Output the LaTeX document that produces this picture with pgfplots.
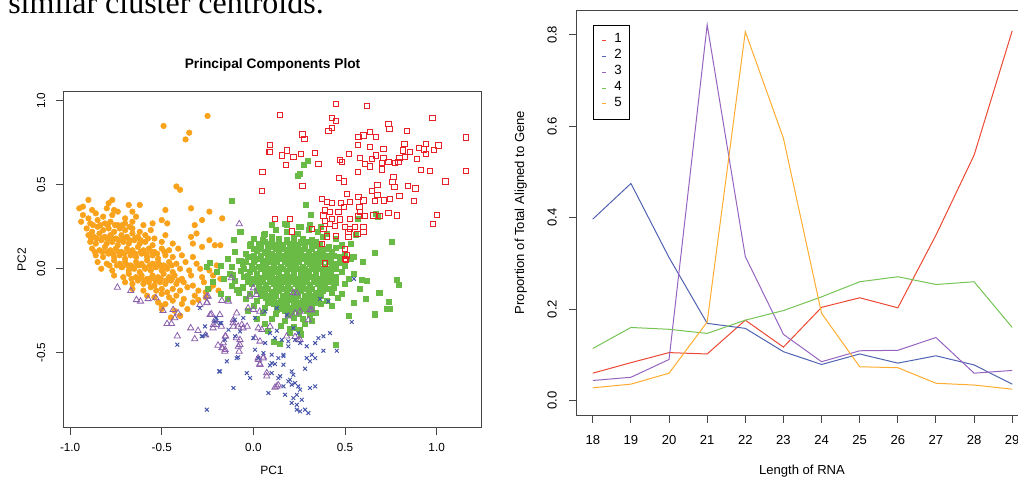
\documentclass[border=0pt]{standalone}
\usepackage{fontspec}
\setmainfont{Liberation Sans}
\newfontfamily\bodyserif{Liberation Serif}
\usepackage{pgfplots}
\usepackage{pgfplotstable}
\pgfplotsset{compat=1.18}

\definecolor{ptorange}{RGB}{249,162,28}
\definecolor{ptgreen}{RGB}{106,187,69}
\definecolor{ptred}{RGB}{232,32,40}
\definecolor{ptpurple}{RGB}{140,96,172}
\definecolor{ptblue}{RGB}{68,84,170}
\definecolor{lnred}{RGB}{236,72,52}
\definecolor{lnblue}{RGB}{80,98,178}
\definecolor{lnpurple}{RGB}{150,100,192}
\definecolor{lngreen}{RGB}{118,196,84}
\definecolor{lnorange}{RGB}{255,172,48}
\definecolor{framegray}{RGB}{70,70,70}

% proportions of reads by RNA length, one column per cluster
\pgfplotstableread{
len s1 s2 s3 s4 s5
18 0.060 0.397 0.044 0.114 0.028
19 0.083 0.475 0.051 0.160 0.036
20 0.105 0.313 0.090 0.156 0.060
21 0.102 0.169 0.822 0.147 0.172
22 0.176 0.158 0.315 0.176 0.807
23 0.117 0.107 0.145 0.197 0.574
24 0.204 0.079 0.085 0.227 0.191
25 0.225 0.102 0.109 0.260 0.074
26 0.203 0.082 0.110 0.271 0.072
27 0.362 0.098 0.138 0.254 0.038
28 0.537 0.078 0.060 0.260 0.034
29 0.809 0.036 0.066 0.160 0.025
}\rnatable

\pgfplotsset{
  rstyle/.style={
    scale only axis,
    axis line style={framegray, line width=0.75pt},
    tick style={framegray, line width=0.75pt},
    tick align=outside, xtick pos=bottom, ytick pos=left,
    major tick length=5.3pt,
    /pgf/number format/assume math mode=true,
  },
}

\begin{document}
\begin{tikzpicture}
\useasboundingbox (0,0) rectangle (763.5pt,357.75pt);
\clip (0,0) rectangle (763.5pt,357.75pt);

\node[anchor=base west, inner sep=0pt, font=\bodyserif\fontsize{24}{28}\selectfont]
  at (6pt,347.8pt) {similar cluster centroids.};

%% ---------------- PCA scatter ----------------
\begin{axis}[rstyle,
  at={(47.5pt,36.75pt)}, anchor=south west,
  width=313.8pt, height=252.2pt,
  xmin=-1.037, xmax=1.246, ymin=-0.948, ymax=1.054,
  xtick={-1,-0.5,0,0.5,1}, ytick={-0.5,0,0.5,1},
  xticklabel style={font=\fontsize{8.8}{10}\selectfont, anchor=base, yshift=-12.4pt,
    /pgf/number format/fixed, /pgf/number format/fixed zerofill, /pgf/number format/precision=1},
  yticklabel style={font=\fontsize{8.8}{10}\selectfont, xshift=-8.3pt, rotate=90, anchor=base,
    /pgf/number format/fixed, /pgf/number format/fixed zerofill, /pgf/number format/precision=1},
]
% cluster: orange dots
\addplot[only marks, mark=*, mark size=2.1pt, color=ptorange] coordinates {
(-0.25,0.91) (-0.49,0.85) (-0.35,0.81) (-0.37,0.77) (-0.42,0.49) (-0.40,0.47)
(-0.48,0.35) (-0.34,0.36) (-0.24,0.34) (-0.17,0.30) (-0.62,0.38) (-0.66,0.34)
(-0.95,0.36) (-0.90,0.41) (-0.77,0.41) (-0.79,0.39) (-0.68,0.38) (-0.76,0.35)
(-0.50,0.29) (-0.47,0.27) (-0.55,0.27) (-0.28,0.29) (-0.32,0.26) (-0.21,0.14)
(-0.18,0.14) (-0.28,0.13) (-0.24,0.17) (-0.34,0.19) (-0.31,0.21) (-0.33,0.15)
(-0.30,-0.185) (-0.40,-0.28) (-0.50,-0.22) (-0.20,0.02) (-0.18,-0.06) (-0.22,-0.10)
(-0.26,-0.14) (-0.19,-0.13)
(-0.93,0.37) (-0.88,0.35) (-0.80,0.36) (-0.74,0.34)
(-0.93,0.32) (-0.90,0.30) (-0.86,0.33) (-0.82,0.31) (-0.77,0.32) (-0.70,0.30) (-0.64,0.31)
(-0.94,0.28) (-0.89,0.27) (-0.85,0.29) (-0.81,0.27) (-0.78,0.28) (-0.74,0.26) (-0.70,0.27)
(-0.66,0.28) (-0.60,0.26)
(-0.91,0.24) (-0.88,0.22) (-0.85,0.25) (-0.82,0.23) (-0.79,0.24) (-0.76,0.22) (-0.73,0.24)
(-0.70,0.23) (-0.66,0.24) (-0.62,0.22) (-0.56,0.23)
(-0.90,0.20) (-0.87,0.19) (-0.84,0.21) (-0.81,0.19) (-0.78,0.20) (-0.75,0.18) (-0.72,0.20)
(-0.69,0.19) (-0.66,0.21) (-0.63,0.19) (-0.59,0.20) (-0.54,0.18) (-0.48,0.20)
(-0.89,0.16) (-0.86,0.15) (-0.83,0.17) (-0.80,0.15) (-0.77,0.16) (-0.74,0.14) (-0.71,0.16)
(-0.68,0.15) (-0.65,0.17) (-0.62,0.15) (-0.59,0.16) (-0.55,0.14) (-0.50,0.16) (-0.44,0.15)
(-0.88,0.12) (-0.84,0.11) (-0.81,0.13) (-0.78,0.11) (-0.75,0.12) (-0.72,0.10) (-0.69,0.12)
(-0.66,0.11) (-0.63,0.13) (-0.60,0.11) (-0.57,0.12) (-0.54,0.10) (-0.50,0.12) (-0.46,0.11)
(-0.41,0.12)
(-0.86,0.08) (-0.82,0.07) (-0.79,0.09) (-0.76,0.07) (-0.73,0.08) (-0.70,0.06) (-0.67,0.08)
(-0.64,0.07) (-0.61,0.09) (-0.58,0.07) (-0.55,0.08) (-0.52,0.06) (-0.48,0.08) (-0.44,0.07)
(-0.39,0.08) (-0.33,0.07)
(-0.85,0.04) (-0.80,0.03) (-0.76,0.05) (-0.73,0.03) (-0.70,0.04) (-0.67,0.02) (-0.64,0.04)
(-0.61,0.03) (-0.58,0.05) (-0.55,0.03) (-0.52,0.04) (-0.49,0.02) (-0.46,0.04) (-0.42,0.03)
(-0.37,0.04) (-0.31,0.03)
(-0.83,0.00) (-0.77,-0.01) (-0.72,0.01) (-0.68,-0.01) (-0.65,0.00) (-0.62,-0.02) (-0.59,0.00)
(-0.56,-0.01) (-0.53,0.01) (-0.50,-0.01) (-0.47,0.00) (-0.44,-0.02) (-0.40,0.00) (-0.35,-0.01)
(-0.29,0.00) (-0.24,-0.01)
(-0.76,-0.04) (-0.71,-0.05) (-0.68,-0.03) (-0.64,-0.05) (-0.61,-0.04) (-0.58,-0.06) (-0.55,-0.04)
(-0.52,-0.05) (-0.49,-0.03) (-0.46,-0.05) (-0.43,-0.04) (-0.39,-0.06) (-0.34,-0.04) (-0.28,-0.05)
(-0.22,-0.04)
(-0.70,-0.08) (-0.66,-0.09) (-0.63,-0.07) (-0.60,-0.09) (-0.57,-0.08) (-0.54,-0.10) (-0.51,-0.08)
(-0.48,-0.09) (-0.45,-0.07) (-0.42,-0.09) (-0.38,-0.08) (-0.33,-0.10) (-0.27,-0.08)
(-0.66,-0.12) (-0.60,-0.13) (-0.56,-0.11) (-0.53,-0.13) (-0.50,-0.12) (-0.47,-0.14) (-0.44,-0.12)
(-0.40,-0.13) (-0.36,-0.11) (-0.30,-0.13) (-0.24,-0.12)
(-0.58,-0.16) (-0.54,-0.17) (-0.50,-0.15) (-0.46,-0.17) (-0.42,-0.16) (-0.38,-0.18) (-0.32,-0.16)
(-0.26,-0.17)
(-0.52,-0.20) (-0.48,-0.21) (-0.44,-0.19) (-0.39,-0.21) (-0.33,-0.20)
(-0.50,-0.24) (-0.43,-0.25) (-0.36,-0.24) (-0.45,-0.29) (-0.40,-0.28)
(-0.875,0.26) (-0.835,0.26) (-0.795,0.26) (-0.755,0.26) (-0.715,0.26) (-0.675,0.25)
(-0.885,0.18) (-0.855,0.18) (-0.825,0.18) (-0.795,0.18) (-0.765,0.18) (-0.735,0.17)
(-0.705,0.18) (-0.675,0.17) (-0.645,0.18) (-0.615,0.17) (-0.575,0.18)
(-0.865,0.10) (-0.825,0.10) (-0.795,0.10) (-0.765,0.09) (-0.735,0.10) (-0.705,0.09)
(-0.675,0.10) (-0.645,0.09) (-0.615,0.10) (-0.585,0.09) (-0.555,0.10) (-0.525,0.09) (-0.485,0.10)
(-0.785,0.02) (-0.745,0.02) (-0.715,0.01) (-0.685,0.02) (-0.655,0.01) (-0.625,0.02)
(-0.595,0.01) (-0.565,0.02) (-0.535,0.01) (-0.505,0.02) (-0.475,0.01) (-0.445,0.02)
(-0.665,-0.06) (-0.625,-0.06) (-0.595,-0.07) (-0.565,-0.06) (-0.535,-0.07) (-0.505,-0.06)
(-0.475,-0.07) (-0.445,-0.06) (-0.41,-0.07)
};
% cluster: green squares
\addplot[only marks, mark=square*, mark size=1.9pt, color=ptgreen] coordinates {
(0.10,0.26) (0.17,0.27) (0.26,0.25) (0.31,0.26) (0.37,0.25)
(-0.07,0.22) (0.06,0.21) (0.12,0.23) (0.18,0.22) (0.24,0.21) (0.30,0.23) (0.35,0.22) (0.40,0.21)
(0.00,0.18) (0.05,0.17) (0.10,0.19) (0.14,0.18) (0.18,0.17) (0.22,0.19) (0.27,0.18) (0.32,0.17)
(0.38,0.19) (0.45,0.18)
(-0.02,0.14) (0.04,0.13) (0.08,0.15) (0.12,0.14) (0.16,0.13) (0.20,0.15) (0.24,0.14) (0.28,0.13)
(0.32,0.15) (0.36,0.14) (0.41,0.13) (0.48,0.14)
(-0.10,0.10) (-0.04,0.09) (0.02,0.11) (0.06,0.10) (0.10,0.09) (0.14,0.11) (0.18,0.10) (0.22,0.09)
(0.26,0.11) (0.30,0.10) (0.34,0.09) (0.38,0.11) (0.43,0.10) (0.50,0.09)
(-0.14,0.06) (-0.08,0.05) (-0.03,0.07) (0.02,0.06) (0.06,0.05) (0.10,0.07) (0.14,0.06) (0.18,0.05)
(0.22,0.07) (0.26,0.06) (0.30,0.05) (0.34,0.07) (0.38,0.06) (0.42,0.05) (0.47,0.07) (0.53,0.06)
(-0.18,0.02) (-0.12,0.01) (-0.06,0.03) (-0.01,0.02) (0.03,0.01) (0.07,0.03) (0.11,0.02) (0.15,0.01)
(0.19,0.03) (0.23,0.02) (0.27,0.01) (0.31,0.03) (0.35,0.02) (0.39,0.01) (0.44,0.03) (0.50,0.02)
(-0.20,-0.02) (-0.13,-0.03) (-0.07,-0.01) (-0.02,-0.02) (0.02,-0.03) (0.06,-0.01) (0.10,-0.02)
(0.14,-0.03) (0.18,-0.01) (0.22,-0.02) (0.26,-0.03) (0.30,-0.01) (0.34,-0.02) (0.38,-0.03)
(0.42,-0.01) (0.48,-0.02) (0.55,-0.03)
(-0.16,-0.06) (-0.10,-0.07) (-0.05,-0.05) (0.00,-0.06) (0.04,-0.07) (0.08,-0.05) (0.12,-0.06)
(0.16,-0.07) (0.20,-0.05) (0.24,-0.06) (0.28,-0.07) (0.32,-0.05) (0.36,-0.06) (0.40,-0.07)
(0.45,-0.05) (0.52,-0.06)
(-0.12,-0.10) (-0.06,-0.11) (-0.01,-0.09) (0.03,-0.10) (0.07,-0.11) (0.11,-0.09) (0.15,-0.10)
(0.19,-0.11) (0.23,-0.09) (0.27,-0.10) (0.31,-0.11) (0.35,-0.09) (0.39,-0.10) (0.44,-0.11) (0.50,-0.09)
(-0.08,-0.14) (-0.02,-0.15) (0.02,-0.13) (0.06,-0.14) (0.10,-0.15) (0.14,-0.13) (0.18,-0.14)
(0.22,-0.15) (0.26,-0.13) (0.30,-0.14) (0.34,-0.15) (0.38,-0.13) (0.43,-0.14) (0.48,-0.15)
(-0.04,-0.18) (0.02,-0.19) (0.07,-0.17) (0.11,-0.18) (0.15,-0.19) (0.19,-0.17) (0.23,-0.18)
(0.27,-0.19) (0.31,-0.17) (0.35,-0.18) (0.40,-0.19) (0.46,-0.17)
(0.00,-0.22) (0.06,-0.23) (0.11,-0.21) (0.16,-0.22) (0.20,-0.23) (0.24,-0.21) (0.28,-0.22)
(0.32,-0.23) (0.37,-0.21) (0.43,-0.22)
(0.05,-0.26) (0.12,-0.27) (0.17,-0.25) (0.21,-0.26) (0.25,-0.27) (0.29,-0.25) (0.34,-0.26)
(0.10,-0.30) (0.17,-0.31) (0.22,-0.29) (0.27,-0.30) (0.32,-0.31)
(0.15,-0.34) (0.22,-0.35) (0.28,-0.33) (0.20,-0.38) (0.26,-0.39)
(0.146,-0.444) (0.109,-0.435) (0.20,-0.355) (0.218,-0.345) (0.255,-0.361)
(0.06,0.16) (0.10,0.16) (0.14,0.16) (0.18,0.16) (0.22,0.16) (0.26,0.16) (0.30,0.16) (0.34,0.16)
(0.00,0.12) (0.04,0.12) (0.08,0.12) (0.12,0.12) (0.16,0.12) (0.20,0.12) (0.24,0.12) (0.28,0.12)
(0.32,0.12) (0.36,0.12) (0.40,0.12)
(0.00,0.08) (0.04,0.08) (0.08,0.08) (0.12,0.08) (0.16,0.08) (0.20,0.08) (0.24,0.08) (0.28,0.08)
(0.32,0.08) (0.36,0.08) (0.40,0.08) (0.44,0.08)
(-0.04,0.04) (0.00,0.04) (0.05,0.04) (0.09,0.04) (0.13,0.04) (0.17,0.04) (0.21,0.04) (0.25,0.04)
(0.29,0.04) (0.33,0.04) (0.37,0.04) (0.41,0.04)
(-0.05,0.00) (0.00,0.00) (0.04,0.00) (0.08,0.00) (0.12,0.00) (0.16,0.00) (0.20,0.00) (0.24,0.00)
(0.28,0.00) (0.32,0.00) (0.36,0.00) (0.40,0.00) (0.45,0.00)
(-0.03,-0.04) (0.02,-0.04) (0.06,-0.04) (0.10,-0.04) (0.14,-0.04) (0.18,-0.04) (0.22,-0.04)
(0.26,-0.04) (0.30,-0.04) (0.34,-0.04) (0.38,-0.04) (0.42,-0.04)
(0.01,-0.08) (0.05,-0.08) (0.09,-0.08) (0.13,-0.08) (0.17,-0.08) (0.21,-0.08) (0.25,-0.08)
(0.29,-0.08) (0.33,-0.08) (0.37,-0.08) (0.42,-0.08)
(0.04,-0.12) (0.08,-0.12) (0.12,-0.12) (0.16,-0.12) (0.20,-0.12) (0.24,-0.12) (0.28,-0.12)
(0.32,-0.12) (0.36,-0.12) (0.41,-0.12)
(0.04,-0.16) (0.08,-0.16) (0.12,-0.16) (0.16,-0.16) (0.20,-0.16) (0.24,-0.16) (0.28,-0.16)
(0.32,-0.16) (0.37,-0.16)
(0.08,-0.20) (0.13,-0.20) (0.18,-0.20) (0.22,-0.20) (0.26,-0.20) (0.30,-0.20) (0.34,-0.20)
(0.14,-0.24) (0.19,-0.24) (0.23,-0.24) (0.27,-0.24) (0.31,-0.24)
(0.03,0.15) (0.09,0.13) (0.15,0.145) (0.21,0.125) (0.27,0.155) (0.33,0.135) (0.07,0.095)
(0.13,0.075) (0.19,0.115) (0.25,0.085) (0.31,0.075) (0.37,0.095) (0.01,0.055) (0.11,0.045)
(0.17,0.065) (0.23,0.035) (0.29,0.065) (0.35,0.045) (0.41,0.065) (0.05,0.015) (0.13,-0.015)
(0.21,0.015) (0.27,-0.015) (0.33,0.015) (0.39,-0.015) (0.43,0.025) (0.03,-0.055) (0.09,-0.025)
(0.15,-0.045) (0.21,-0.065) (0.27,-0.045) (0.33,-0.075) (0.39,-0.055) (0.07,-0.095) (0.13,-0.115)
(0.19,-0.085) (0.25,-0.115) (0.31,-0.095) (0.37,-0.115) (0.05,-0.155) (0.11,-0.135) (0.17,-0.165)
(0.23,-0.135) (0.29,-0.165) (0.35,-0.145) (0.09,-0.195) (0.15,-0.215) (0.21,-0.185) (0.27,-0.215)
(0.33,-0.195) (0.13,-0.245) (0.19,-0.275) (0.25,-0.235) (0.31,-0.275) (-0.07,0.045) (-0.11,-0.035)
(-0.03,-0.075) (-0.09,-0.125) (0.45,-0.085) (0.47,0.035) (0.45,0.125)
(-0.03,-0.25) (0.02,-0.30) (0.06,-0.33) (0.08,-0.37)
(0.295,0.643) (0.273,0.617) (0.251,0.568) (0.244,0.552) (-0.116,0.403) (0.286,0.379) (0.313,0.32)
(0.755,0.163) (0.664,0.095) (0.782,-0.063) (0.791,-0.097) (0.687,-0.143) (0.737,-0.196)
(0.746,-0.236) (0.73,-0.236) (0.66,-0.271) (0.613,-0.176) (0.591,-0.067) (0.619,-0.073)
(0.45,-0.45) (0.545,0.071) (0.597,0.042) (-0.073,0.22) (-0.109,0.175) (-0.014,0.151)
(0.058,0.205) (-0.24,0.036) (-0.254,0.012) (0.67,0.33) (0.68,0.31) (0.57,0.30) (0.18,0.26)
(0.25,0.25) (0.56,0.20) (0.53,0.15) (0.58,-0.12) (0.55,-0.20) (0.52,-0.28) (-0.22,-0.08)
(-0.25,-0.12) (-0.18,-0.15) (-0.14,-0.18)
};
% cluster: red open squares
\addplot[only marks, mark=square, mark size=2.0pt, color=ptred, mark options={line width=0.6pt}] coordinates {
(0.449,0.982) (0.619,0.968) (0.146,0.917) (0.977,0.899) (0.428,0.897) (0.451,0.881) (0.428,0.837)
(0.409,0.82) (0.737,0.863) (0.742,0.833) (0.837,0.82) (0.267,0.8) (0.278,0.772) (0.637,0.814)
(0.6,0.794) (0.573,0.784) (0.669,0.784) (1.159,0.782) (0.091,0.738) (0.091,0.695) (0.182,0.705)
(0.155,0.675) (0.218,0.667) (0.26,0.683) (0.337,0.69) (0.569,0.738) (0.637,0.724) (0.709,0.714)
(0.669,0.675) (0.709,0.661) (0.646,0.655) (0.824,0.744) (0.815,0.705) (0.855,0.695) (0.904,0.719)
(0.942,0.744) (0.931,0.711) (0.984,0.708) (1.009,0.735) (0.797,0.659) (0.828,0.665) (0.891,0.655)
(0.941,0.683) (0.522,0.683) (0.473,0.647) (0.482,0.635) (0.355,0.625) (0.177,0.619) (0.582,0.659)
(0.609,0.625) (0.637,0.61) (0.7,0.631) (0.737,0.635) (0.773,0.631) (0.7,0.592) (0.791,0.635)
(0.569,0.576) (1.159,0.583) (0.964,0.582) (0.913,0.589) (0.267,0.492) (0.468,0.54) (0.495,0.52)
(0.764,0.546) (0.758,0.516) (0.769,0.486) (0.676,0.5) (0.646,0.464) (0.676,0.44) (0.842,0.492)
(0.884,0.479) (1.047,0.52) (0.797,0.433) (0.877,0.403) (0.51,0.446) (0.528,0.397) (0.495,0.367)
(0.573,0.427) (0.6,0.407) (0.664,0.405) (0.713,0.407) (0.746,0.417) (0.373,0.417) (0.4,0.397)
(0.428,0.393) (0.478,0.393) (0.391,0.348) (0.418,0.338) (0.464,0.338) (0.382,0.318) (0.578,0.367)
(0.582,0.338) (0.573,0.314) (0.609,0.314) (0.655,0.318) (0.691,0.314) (0.737,0.333) (0.782,0.318)
(1.0,0.321) (0.979,0.266) (0.118,0.298) (0.2,0.296) (0.528,0.298) (0.473,0.294) (0.428,0.298)
(0.391,0.284) (0.418,0.268) (0.446,0.254) (0.5,0.248) (0.528,0.238) (0.555,0.248) (0.6,0.248)
(0.6,0.218) (0.567,0.208) (0.518,0.218) (0.518,0.189) (0.319,0.238) (0.382,0.238) (0.21,0.223)
(0.4,0.193) (0.449,0.195) (0.373,0.149) (0.5,0.119) (0.51,0.08) (0.5,0.06) (0.391,0.032)
(0.504,0.054) (0.049,0.577) (0.046,0.464) (0.087,0.696)
};
% cluster: purple triangles
\addplot[only marks, mark=triangle, mark size=2.7pt, color=ptpurple, mark options={line width=0.6pt}] coordinates {
(-0.742,-0.111) (-0.669,-0.131) (-0.638,-0.185) (-0.616,-0.194) (-0.574,-0.179) (-0.532,-0.174)
(-0.493,-0.25) (-0.438,-0.244) (-0.411,-0.264) (-0.429,-0.293) (-0.471,-0.327) (-0.447,-0.327)
(-0.415,-0.401) (-0.342,-0.353) (-0.302,-0.369) (-0.32,-0.418) (-0.26,-0.396) (-0.292,-0.214)
(-0.253,-0.2) (-0.247,-0.164) (-0.229,-0.27) (-0.183,-0.274) (-0.202,-0.333) (-0.175,-0.343)
(-0.22,-0.353) (-0.151,-0.402) (-0.193,-0.456) (-0.169,-0.472) (-0.156,-0.492) (-0.111,-0.323)
(-0.083,-0.343) (-0.056,-0.353) (-0.034,-0.343) (-0.093,-0.412) (-0.074,-0.452) (-0.078,-0.492)
(-0.12,-0.055) (-0.02,-0.164) (0.016,-0.155) (-0.029,-0.234) (0.035,-0.254) (0.026,-0.532)
(0.035,-0.567) (0.053,-0.532) (-0.254,-0.164) (-0.254,-0.204) (-0.136,-0.194) (-0.172,-0.19)
(0,-0.115) (0,-0.244) (-0.091,-0.264) (-0.236,-0.274) (-0.209,-0.304) (-0.218,-0.333)
(-0.109,-0.304) (-0.109,-0.343) (-0.063,-0.333) (-0.154,-0.402) (-0.164,-0.442) (-0.073,-0.423)
(-0.082,-0.462) (-0.172,-0.472) (-0.154,-0.482) (0.009,-0.412) (0.036,-0.432) (0.027,-0.542)
(0.036,-0.571) (0.055,-0.527) (0.073,-0.64) (0.128,-0.7) (0.118,-0.706) (0.191,-0.283)
(0.182,-0.402) (0.227,-0.264) (0.255,-0.254) (0.309,-0.244) (0.255,-0.423) (0.091,-0.343)
(0.046,-0.363) (0.027,-0.353) (0.136,-0.692) (0.245,-0.424) (0.227,-0.405) (0.319,-0.246)
(0.3,-0.305) (0.218,-0.143) (0.237,-0.146) (0.073,-0.62) (-0.077,0.267)
};
% cluster: blue crosses
\addplot[only marks, mark=x, mark size=2.0pt, color=ptblue, mark options={line width=0.7pt}] coordinates {
(0.549,-0.06) (0.364,-0.179) (0.409,-0.194) (0.537,-0.317) (0.418,-0.383) (0.382,-0.402)
(0.355,-0.413) (0.337,-0.442) (0.382,-0.488) (0.455,-0.488) (0.291,-0.462) (0.319,-0.512)
(0.337,-0.532) (0.291,-0.532) (0.309,-0.551) (0.282,-0.595) (0.218,-0.353) (0.245,-0.383)
(0.227,-0.423) (0.255,-0.442) (0.191,-0.462) (0.164,-0.512) (0.164,-0.571) (0.1,-0.561)
(0.209,-0.611) (0.218,-0.631) (0.2,-0.661) (0.227,-0.68) (0.191,-0.67) (0.164,-0.7) (0.209,-0.69)
(0.245,-0.7) (0.255,-0.72) (0.237,-0.75) (0.218,-0.77) (0.209,-0.799) (0.237,-0.81) (0.237,-0.839)
(0.255,-0.849) (0.282,-0.839) (0.3,-0.859) (0.264,-0.78) (0.309,-0.71) (0.337,-0.7) (0.173,-0.75)
(0.136,-0.651) (0.082,-0.74) (-0.036,-0.621) (-0.018,-0.65) (-0.109,-0.71) (-0.182,-0.611)
(-0.254,-0.839) (-0.091,-0.532) (-0.145,-0.551) (0.1,-0.621) (0.146,-0.64) (0.136,-0.532)
(0.091,-0.575) (0.009,-0.482) (0.027,-0.532) (0.055,-0.502) (0.1,-0.512) (0.164,-0.521)
(0.118,-0.567) (0,-0.412) (0.064,-0.442) (0.118,-0.412) (0.155,-0.423) (0.191,-0.432)
(0.091,-0.383) (0.128,-0.369) (-0.073,-0.373) (-0.1,-0.402) (-0.136,-0.363) (-0.182,-0.323)
(-0.209,-0.313) (-0.264,-0.343) (-0.282,-0.402) (-0.155,-0.423) (-0.055,-0.293) (0.009,-0.293)
(0.064,-0.254) (0.128,-0.234) (0.182,-0.274) (-0.415,-0.452) (-0.292,-0.234) (-0.278,-0.402)
(-0.26,-0.393) (-0.187,-0.611) (-0.083,-0.527) (-0.101,-0.304) (-0.202,-0.293) (-0.175,-0.323)
};
\end{axis}

\node[font=\bfseries\fontsize{10.3}{12}\selectfont, anchor=base] at (204.4pt,306pt) {Principal Components Plot};
\node[font=\fontsize{9}{10}\selectfont, anchor=base] at (204pt,1.6pt) {PC1};
\node[font=\fontsize{9}{10}\selectfont, anchor=base, rotate=90] at (19.5pt,162.75pt) {PC2};

%% ---------------- length profiles ----------------
\begin{axis}[rstyle,
  at={(432pt,45.98pt)}, anchor=south west,
  width=339.75pt, height=303.75pt,
  xmin=17.56, xmax=29.44, ymin=-0.033, ymax=0.853,
  xtick={18,...,29}, ytick={0,0.2,0.4,0.6,0.8},
  xticklabel style={font=\fontsize{9.8}{11}\selectfont, anchor=base, yshift=-16pt},
  yticklabel style={font=\fontsize{9.8}{11}\selectfont, xshift=-9.2pt, rotate=90, anchor=base,
    /pgf/number format/fixed, /pgf/number format/fixed zerofill, /pgf/number format/precision=1},
  every axis plot/.append style={line width=0.75pt, no marks},
  legend image code/.code={\draw[#1] (0pt,0pt) -- (3.5pt,0pt); \path[draw=none, fill=none] (0pt,0pt) -- (9.5pt,0pt);},
  legend style={at={(rel axis cs:0.037,0.965)}, anchor=north west,
    draw=black, line width=0.6pt, fill=white,
    inner xsep=6pt, inner ysep=5.7pt, row sep=0pt,
    font=\fontsize{10}{11}\selectfont,
    nodes={inner sep=0pt, text height=7.6pt, text depth=4.25pt}},
  legend cell align=left,
]
\addplot[lnred] table[x=len, y=s1] {\rnatable};
\addlegendentry{1}
\addplot[lnblue] table[x=len, y=s2] {\rnatable};
\addlegendentry{2}
\addplot[lnpurple] table[x=len, y=s3] {\rnatable};
\addlegendentry{3}
\addplot[lngreen] table[x=len, y=s4] {\rnatable};
\addlegendentry{4}
\addplot[lnorange] table[x=len, y=s5] {\rnatable};
\addlegendentry{5}
\end{axis}

\node[font=\fontsize{9.8}{11}\selectfont, anchor=base] at (601.5pt,1.95pt) {Length of RNA};
\node[font=\fontsize{9.8}{11}\selectfont, anchor=base, rotate=90] at (393pt,198.4pt) {Proportion of Total Aligned to Gene};
\end{tikzpicture}
\end{document}
